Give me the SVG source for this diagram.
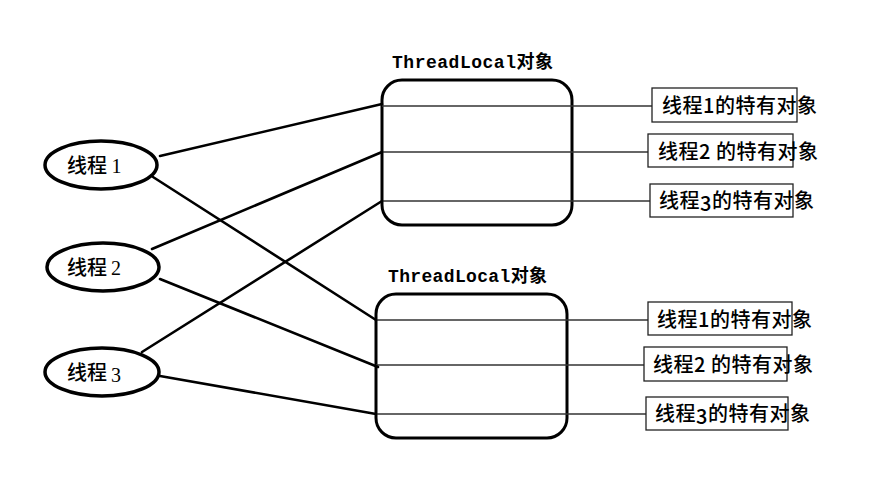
<svg xmlns="http://www.w3.org/2000/svg" width="874" height="488" viewBox="0 0 874 488">
<style>
.bg{fill:#ffffff}
.ell{fill:#ffffff;stroke:#000;stroke-width:3.5}
.tl{fill:none;stroke:#000;stroke-width:3}
.lbl{fill:#ffffff;stroke:#222;stroke-width:1.3}
.hl{stroke:#333;stroke-width:1.5;fill:none}
.conn{stroke:#000;stroke-width:2.6;fill:none;stroke-linecap:round}
.cn{font-family:"Noto Sans CJK SC","Liberation Serif",serif;font-size:20px;font-weight:500;fill:#000}
.lt{font-family:"Noto Sans CJK SC","Liberation Sans",sans-serif;font-size:20px;font-weight:500;fill:#000;letter-spacing:0.5px}
.ttl{font-family:"Liberation Mono","Noto Sans CJK SC",monospace;font-size:18px;font-weight:bold;fill:#000}
</style>
<rect class="bg" x="0" y="0" width="874" height="488"/>

<g id="tl1">
  <text class="ttl" x="392" y="68" textLength="161">ThreadLocal对象</text>
  <rect class="tl" x="382" y="80" width="190" height="145" rx="20" ry="20"/>
</g>
<g id="tl2">
  <text class="ttl" x="388" y="282" textLength="159">ThreadLocal对象</text>
  <rect class="tl" x="376" y="294" width="191" height="144" rx="20" ry="20"/>
</g>

<g id="connectors">
  <line class="hl" x1="382" y1="106" x2="652" y2="106"/>
  <line class="hl" x1="382" y1="152" x2="648" y2="152"/>
  <line class="hl" x1="382" y1="201" x2="650" y2="201"/>
  <line class="hl" x1="376" y1="320" x2="648" y2="320"/>
  <line class="hl" x1="376" y1="365" x2="644" y2="365"/>
  <line class="hl" x1="376" y1="414" x2="646" y2="414"/>
  <line class="conn" x1="160" y1="156" x2="382" y2="104"/>
  <line class="conn" x1="153" y1="177" x2="376" y2="320"/>
  <line class="conn" x1="152" y1="249" x2="382" y2="152"/>
  <line class="conn" x1="160" y1="279" x2="378" y2="367"/>
  <line class="conn" x1="142" y1="352" x2="382" y2="201"/>
  <line class="conn" x1="160" y1="376" x2="376" y2="414"/>
</g>

<g id="thread1">
  <ellipse class="ell" cx="101" cy="165" rx="56" ry="24"/>
  <text class="cn" x="67" y="173">线程 <tspan font-family="Liberation Serif">1</tspan></text>
</g>
<g id="thread2">
  <ellipse class="ell" cx="103" cy="267" rx="56" ry="24"/>
  <text class="cn" x="67" y="275">线程<tspan font-family="Liberation Serif" dx="4">2</tspan></text>
</g>
<g id="thread3">
  <ellipse class="ell" cx="102" cy="372" rx="57" ry="24"/>
  <text class="cn" x="67" y="380">线程<tspan font-family="Liberation Serif" dx="4" dy="2">3</tspan></text>
</g>

<g id="obj1a">
  <rect class="lbl" x="652" y="88" width="145" height="34"/>
  <text class="lt" x="662" y="113">线程1的特有对象</text>
</g>
<g id="obj2a">
  <rect class="lbl" x="648" y="134" width="145" height="33"/>
  <text class="lt" x="658" y="159">线程2 的特有对象</text>
</g>
<g id="obj3a">
  <rect class="lbl" x="650" y="184" width="143" height="33"/>
  <text class="lt" x="659" y="208">线程<tspan dy="3">3</tspan><tspan dy="-3">的特有对象</tspan></text>
</g>
<g id="obj1b">
  <rect class="lbl" x="648" y="302" width="144" height="33"/>
  <text class="lt" x="657" y="327">线程1的特有对象</text>
</g>
<g id="obj2b">
  <rect class="lbl" x="644" y="347" width="143" height="34"/>
  <text class="lt" x="653" y="372">线程2 的特有对象</text>
</g>
<g id="obj3b">
  <rect class="lbl" x="646" y="397" width="142" height="33"/>
  <text class="lt" x="655" y="421">线程<tspan dy="3">3</tspan><tspan dy="-3">的特有对象</tspan></text>
</g>
</svg>
